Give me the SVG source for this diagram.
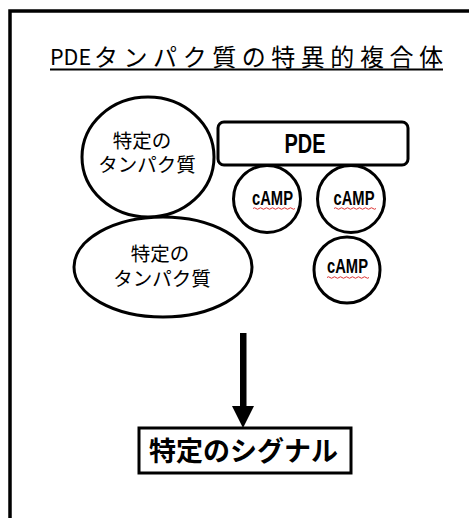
<svg xmlns="http://www.w3.org/2000/svg" width="469" height="518" viewBox="0 0 469 518">
<defs>
<style>
.frame{fill:none;stroke:#000;stroke-width:3.5}
.sh{fill:#fff;stroke:#000;stroke-width:3}
.jp{font-family:"Noto Sans CJK JP","Noto Sans",sans-serif;fill:#000}
.lat{font-family:"Liberation Sans",Arial,sans-serif;font-weight:bold;fill:#000}
.wave{fill:none;stroke:#d33;stroke-width:1}
</style>
</defs>
<rect width="469" height="518" fill="#fff"/>
<rect class="frame" x="10" y="11" width="480" height="540"/>
<g id="title">
<text class="jp" x="50" y="65" font-size="21.5">PDE</text>
<text class="jp" x="94" y="66" font-size="24" textLength="349" lengthAdjust="spacing">タンパク質の特異的複合体</text>
<line x1="50" y1="69.5" x2="443" y2="69.5" stroke="#000" stroke-width="2"/>
</g>
<g id="connectors">
<rect x="240" y="333" width="6.5" height="76" fill="#000"/>
<polygon points="232,406 254,406 243,428" fill="#000"/>
</g>
<g id="protein1">
<ellipse class="sh" cx="148" cy="157" rx="66" ry="60"/>
<text class="jp" font-size="19.5" text-anchor="middle"><tspan x="142" y="147.5">特定の</tspan><tspan x="147" y="171.5">タンパク質</tspan></text>
</g>
<g id="protein2">
<ellipse class="sh" cx="163" cy="267" rx="89" ry="50"/>
<text class="jp" font-size="19.5" text-anchor="middle"><tspan x="160" y="260.5">特定の</tspan><tspan x="162" y="285.5">タンパク質</tspan></text>
</g>
<g id="pde">
<rect class="sh" x="218" y="122" width="190" height="43" rx="6"/>
<text class="lat" x="305" y="153" font-size="27" text-anchor="middle" textLength="41" lengthAdjust="spacingAndGlyphs">PDE</text>
</g>
<g id="camp1">
<circle class="sh" cx="267" cy="199" r="33.5"/>
<text class="lat" x="272.5" y="205" font-size="21" text-anchor="middle" textLength="41" lengthAdjust="spacingAndGlyphs">cAMP</text>
<path class="wave" d="M253,208.5 q1.5,-1.5 3,0 t3,0 t3,0 t3,0 t3,0 t3,0 t3,0 t3,0 t3,0 t3,0 t3,0 t3,0 t3,0 t3,0"/>
</g>
<g id="camp2">
<circle class="sh" cx="351" cy="199" r="33.5"/>
<text class="lat" x="354" y="205" font-size="21" text-anchor="middle" textLength="41" lengthAdjust="spacingAndGlyphs">cAMP</text>
<path class="wave" d="M334,208.5 q1.5,-1.5 3,0 t3,0 t3,0 t3,0 t3,0 t3,0 t3,0 t3,0 t3,0 t3,0 t3,0 t3,0 t3,0 t3,0"/>
</g>
<g id="camp3">
<circle class="sh" cx="347" cy="270" r="33"/>
<text class="lat" x="347.5" y="273" font-size="21" text-anchor="middle" textLength="41" lengthAdjust="spacingAndGlyphs">cAMP</text>
<path class="wave" d="M327,277.5 q1.5,-1.5 3,0 t3,0 t3,0 t3,0 t3,0 t3,0 t3,0 t3,0 t3,0 t3,0 t3,0 t3,0 t3,0 t3,0"/>
</g>
<g id="signal">
<rect class="sh" x="139" y="428" width="212" height="45"/>
<text class="jp" x="149" y="461" font-size="27" font-weight="bold" textLength="189" lengthAdjust="spacing">特定のシグナル</text>
</g>
</svg>
